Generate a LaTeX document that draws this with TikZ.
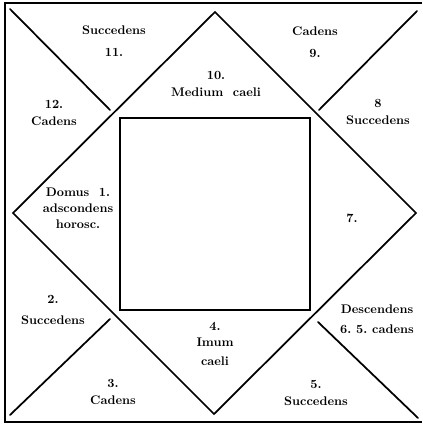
\documentclass[tikz,border=0pt]{standalone}
\usetikzlibrary{calc}

\begin{document}
\begin{tikzpicture}[
    x=0.8pt, y=-0.8pt,
    every node/.style={font=\normalsize\bfseries},
    house/.style={align=center, inner sep=0pt},
    rule/.style={line width=1.4pt, line cap=round},
  ]
  \useasboundingbox (0,0) rectangle (422,425);

  % outer frame (right side runs off the page)
  \draw[line width=2pt] (422,3) -- (5,3) -- (5,422) -- (422,422);

  % the diamond
  \coordinate (dT) at (215,12);
  \coordinate (dR) at (416,213);
  \coordinate (dB) at (214,414);
  \coordinate (dL) at (13,213);
  \draw[rule, line join=miter] (dT) -- (dR) -- (dB) -- (dL) -- cycle;

  % corner strokes
  \coordinate (cTL) at (10,9);    \coordinate (eTL) at (110,110);
  \coordinate (cTR) at (417,11);  \coordinate (eTR) at (319,110);
  \coordinate (cBL) at (10,415);  \coordinate (eBL) at (110,319);
  \coordinate (cBR) at (418,418); \coordinate (eBR) at (318,322);
  \foreach \c in {TL,TR,BL,BR}
    \draw[rule] (c\c) -- (e\c);

  % inner square
  \node[draw, line width=1.1pt, inner sep=0pt,
    minimum width=152pt, minimum height=153.6pt] (inner) at (215,214) {};

  % the twelve houses
  \foreach \n/\x/\y/\txt in {
    11/114/41/{Succedens\\[6pt]11.},
    9/315/42/{Cadens\\[6pt]9.},
    10/216/84/{10.\\[2pt]Medium\ \ caeli},
    12/54/113/{12.\\[1pt]Cadens},
    8/378/112/{8\\[1pt]Succedens},
    1/78/208/{Domus\ \ 1.\\[1pt]adscondens\\[1pt]horosc.},
    7/352/218/{7.},
    6/377/319/{Descendens\\[4pt]6.\ 5.\ cadens},
    4/215/344/{4.\\[1pt]Imum\\[3pt]caeli},
    5/316/393/{5.\\[1pt]Succedens},
    3/113/392/{3.\\[1pt]Cadens},
    2/53/310/{2.\\[5pt]Succedens}%
  }{
    \node[house] (h\n) at (\x,\y) {\txt};
  }
\end{tikzpicture}
\end{document}
